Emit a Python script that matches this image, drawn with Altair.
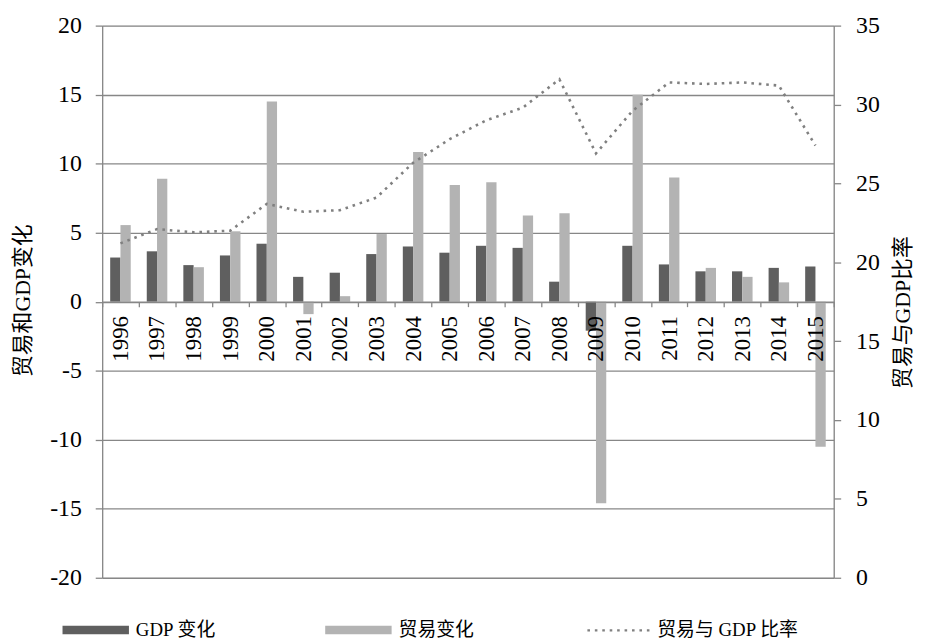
import altair as alt
import pandas as pd

years = [str(y) for y in range(1996, 2016)]
gdp_change = [3.2, 3.65, 2.65, 3.35, 4.2, 1.8, 2.1, 3.45, 4.0, 3.55,
              4.05, 3.9, 1.45, -2.1, 4.05, 2.7, 2.2, 2.2, 2.45, 2.55]
trade_change = [5.55, 8.9, 2.5, 5.1, 14.5, -0.9, 0.4, 4.9, 10.85, 8.45,
                8.65, 6.25, 6.4, -14.6, 15.0, 9.0, 2.45, 1.8, 1.4, -10.5]
trade_gdp_ratio = [21.2, 22.1, 21.9, 22.0, 23.7, 23.2, 23.3, 24.1, 26.3, 27.8,
                   29.0, 29.8, 31.6, 26.9, 29.6, 31.4, 31.3, 31.4, 31.2, 27.4]

bar_series = ["GDP 变化", "贸易变化"]
line_series = "贸易与 GDP 比率"
left_ticks = list(range(-20, 21, 5))
right_ticks = list(range(0, 36, 5))

rows = []
for i, y in enumerate(years):
    rows.append({"year": y, "series": bar_series[0], "value": gdp_change[i]})
    rows.append({"year": y, "series": bar_series[1], "value": trade_change[i]})
bars_df = pd.DataFrame(rows)
line_df = pd.DataFrame({"year": years, "ratio": trade_gdp_ratio, "s": [line_series] * len(years)})

FONT = "'Liberation Serif', 'Noto Sans CJK SC', serif"
GRID = "#878787"
W, H = 738, 557
zero_offset = -H * 0.5

x_enc = alt.X("year:N", sort=years,
              scale=alt.Scale(paddingInner=0, paddingOuter=0),
              axis=alt.Axis(title=None, orient="bottom", offset=zero_offset,
                            tickBand="extent", labelAngle=270, labelFontSize=23,
                            labelPadding=9, tickSize=5, tickColor=GRID, tickWidth=1.3,
                            domainColor=GRID, domainWidth=1.3, grid=False, zindex=2,
                            labelColor="black", labelFont=FONT))

bars = alt.Chart(bars_df).mark_bar().encode(
    x=x_enc,
    xOffset=alt.XOffset("series:N", sort=bar_series,
                        scale=alt.Scale(domain=bar_series, paddingInner=0, paddingOuter=0.78)),
    y=alt.Y("value:Q", scale=alt.Scale(domain=[-20, 20], nice=False, zero=False),
            axis=alt.Axis(title="贸易和GDP变化", values=left_ticks, orient="left",
                          labelExpr="'' + datum.value",
                          grid=True, gridColor=GRID, gridWidth=1.3,
                          domainColor=GRID, domainWidth=1.3, tickColor=GRID, tickWidth=1.3,
                          tickSize=7, labelFontSize=24, labelPadding=14, labelColor="black",
                          labelFont=FONT, titleFont=FONT, titleFontSize=22,
                          titleFontWeight="normal", titleAngle=270, titleX=-80, titleY=277,
                          titleAlign="center", titleBaseline="middle", titleColor="black")),
    color=alt.Color("series:N", sort=bar_series,
                    scale=alt.Scale(domain=bar_series, range=["#5f5f5f", "#b3b3b3"]),
                    legend=alt.Legend(orient="none", legendX=-40, legendY=576,
                                      direction="horizontal", title=None,
                                      symbolType="M-1,-0.13L1,-0.13L1,0.13L-1,0.13Z",
                                      symbolSize=4489, symbolStrokeWidth=0,
                                      labelFontSize=19, labelFont=FONT, labelColor="black",
                                      labelOffset=7, columnPadding=110)),
)

line = alt.Chart(line_df).mark_line(color="#808080", strokeWidth=2.6).encode(
    x=alt.X("year:N", sort=years),
    y=alt.Y("ratio:Q", scale=alt.Scale(domain=[0, 35], nice=False),
            axis=alt.Axis(title="贸易与GDP比率", values=right_ticks, orient="right",
                          labelExpr="'' + datum.value",
                          grid=False, domainColor=GRID, domainWidth=1.3,
                          tickColor=GRID, tickWidth=1.3, tickSize=7,
                          labelFontSize=24, labelPadding=15, labelColor="black",
                          labelFont=FONT, titleFont=FONT, titleFontSize=22,
                          titleFontWeight="normal", titleAngle=270, titleX=69, titleY=289,
                          titleAlign="center", titleBaseline="middle", titleColor="black")),
    strokeDash=alt.StrokeDash("s:N",
                              scale=alt.Scale(domain=[line_series], range=[[2.6, 4.9]]),
                              legend=alt.Legend(orient="none", legendX=488, legendY=576,
                                                title=None, symbolType="stroke",
                                                symbolSize=4225, symbolStrokeColor="#808080",
                                                symbolStrokeWidth=2.2,
                                                labelFontSize=19, labelFont=FONT,
                                                labelColor="black", labelOffset=4)),
)

chart = alt.layer(bars, line).resolve_scale(
    y="independent", color="independent", strokeDash="independent"
).properties(
    width=W, height=H,
    autosize=alt.AutoSizeParams(type="none"),
    padding={"left": 95, "top": 15, "right": 84, "bottom": 60},
).configure_view(stroke=None).configure(font=FONT)

chart.save("out.html", embed_options={"renderer": "svg", "actions": False})
